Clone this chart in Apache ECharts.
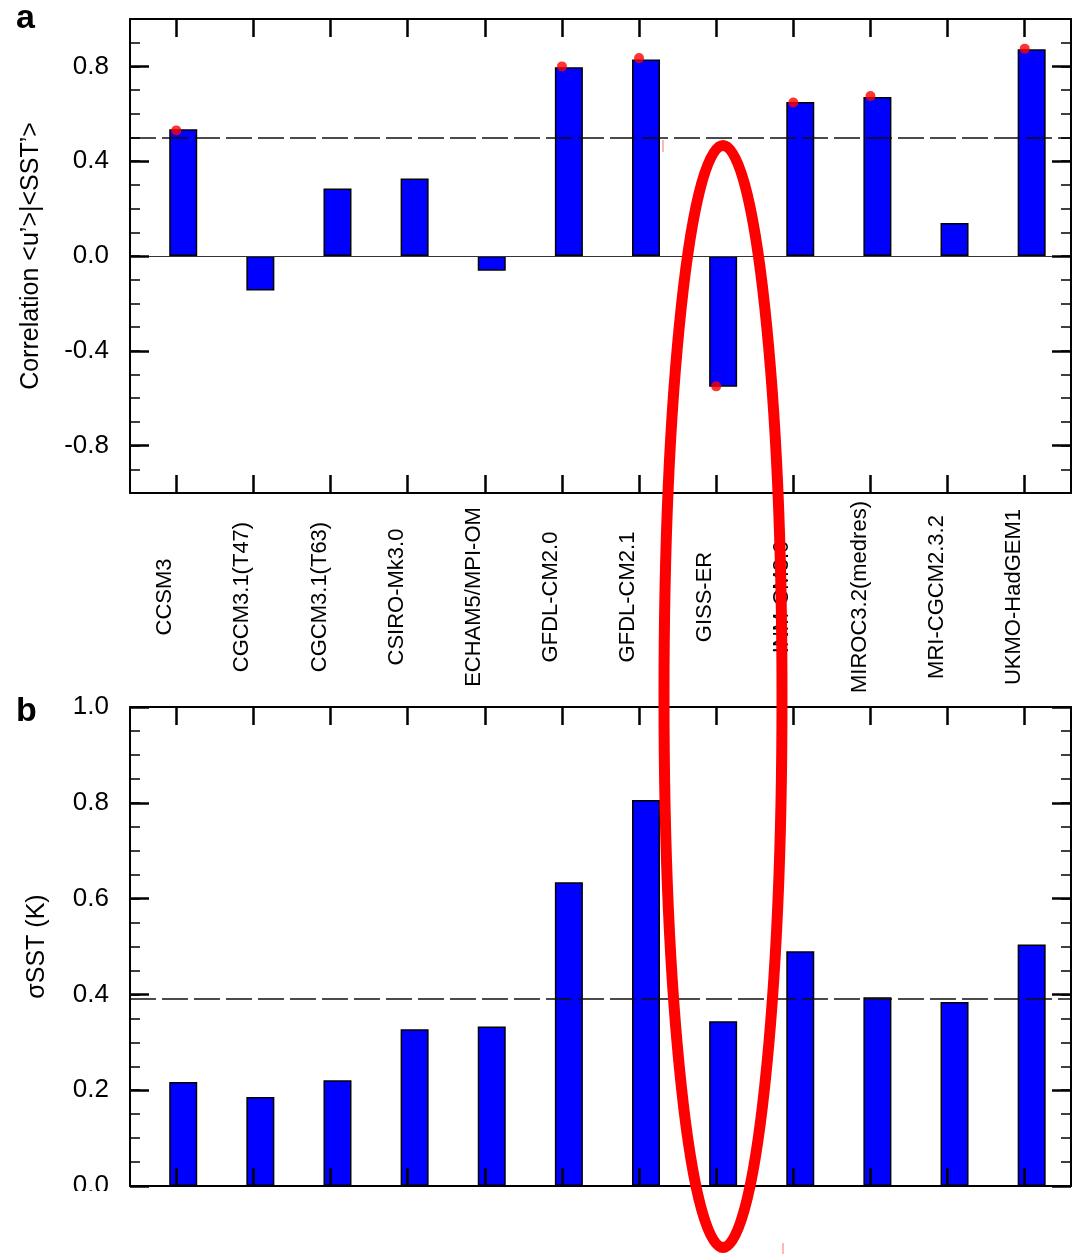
<!DOCTYPE html>
<html>
<head>
<meta charset="utf-8">
<script src="https://cdn.jsdelivr.net/npm/echarts@6/dist/echarts.min.js"></script>
<style>
html,body{margin:0;padding:0;background:#fff;}
#chart{width:1077px;height:1254px;}
</style>
</head>
<body>
<div id="chart"></div>
<script>
// ---------------- data ----------------
const categories = ['CCSM3','CGCM3.1(T47)','CGCM3.1(T63)','CSIRO-Mk3.0','ECHAM5/MPI-OM','GFDL-CM2.0','GFDL-CM2.1','GISS-ER','INM-CM3.0','MIROC3.2(medres)','MRI-CGCM2.3.2','UKMO-HadGEM1'];
const corrValues = [0.535, -0.146, 0.285, 0.327, -0.062, 0.796, 0.829, -0.552, 0.650, 0.671, 0.139, 0.872];
const corrDots = [0.53, null, null, null, null, 0.80, 0.835, -0.55, 0.648, 0.675, null, 0.875];
const sstStd = [0.217, 0.186, 0.221, 0.327, 0.333, 0.634, 0.806, 0.344, 0.490, 0.394, 0.384, 0.504];
const corrRef = 0.5;
const sstRef = 0.39;
const corrTickLabels = [-0.8, -0.4, 0.0, 0.4, 0.8];
const sstTickLabels = [0.0, 0.2, 0.4, 0.6, 0.8, 1.0];
const corrTitle = 'Correlation <u\u2019>|<SST\u2019>';
const sstTitle = '\u03c3SST (K)';

// ---------------- layout ----------------
const FONT = 'Liberation Sans, Arial, Helvetica, sans-serif';
const idx = categories.map((c, i) => i);
const XMIN = -0.6, XMAX = 11.6;          // tick axis range
const BAR_SHIFT = 0.09;                   // bars sit slightly right of ticks
const grids = [
  {left: 130, right: 6, top: 19, height: 474},
  {left: 130, right: 6, top: 707, height: 479}
];
const axisLine = {show: true, onZero: false, lineStyle: {color: '#000', width: 2}};

function xAxes(gi, withLabels) {
  return [
    { // bottom ticks + labels
      type: 'value', gridIndex: gi, position: 'bottom', min: XMIN, max: XMAX, z: 10,
      axisLine: axisLine, splitLine: {show: false},
      axisTick: {show: true, inside: true, length: 18, customValues: idx, lineStyle: {color: '#000', width: 2.5}},
      axisLabel: withLabels ? {
        show: true, customValues: idx, rotate: 90, align: 'center', verticalAlign: 'bottom',
        margin: 104, fontSize: 22, fontFamily: FONT, color: '#000',
        formatter: v => categories[Math.round(v)]
      } : {show: false}
    },
    { // top ticks
      type: 'value', gridIndex: gi, position: 'top', min: XMIN, max: XMAX, z: 10,
      axisLine: axisLine, splitLine: {show: false},
      axisTick: {show: true, inside: true, length: 18, customValues: idx, lineStyle: {color: '#000', width: 2.5}},
      axisLabel: {show: false}
    },
    { // bar axis (hidden)
      type: 'value', gridIndex: gi, position: 'bottom', show: false,
      min: XMIN - BAR_SHIFT, max: XMAX - BAR_SHIFT
    }
  ];
}

function yAxes(gi, min, max, majors, minorInterval, title, nameGap) {
  const major = (pos, withLabel) => ({
    type: 'value', gridIndex: gi, position: pos, min: min, max: max, z: 10,
    axisLine: axisLine, splitLine: {show: false},
    axisTick: {show: true, inside: true, length: 19, customValues: majors, lineStyle: {color: '#000', width: 2.5}},
    axisLabel: withLabel ? {show: true, customValues: majors, margin: 21, fontSize: 26, fontFamily: FONT, color: '#000',
      formatter: v => v.toFixed(1)} : {show: false},
    name: withLabel ? title : '', nameLocation: 'middle', nameGap: nameGap,
    nameTextStyle: {fontSize: 25, fontFamily: FONT, color: '#000'}
  });
  const minor = (pos) => ({
    type: 'value', gridIndex: gi, position: pos, min: min, max: max, interval: minorInterval, z: 10,
    axisLine: {show: false, onZero: false}, splitLine: {show: false},
    axisTick: {show: true, inside: true, length: 10, lineStyle: {color: '#000', width: 1.5}},
    axisLabel: {show: false}
  });
  return [major('left', true), minor('left'), major('right', false), minor('right')];
}

const xAxis = [...xAxes(0, true), ...xAxes(1, false)];
const yAxis = [
  ...yAxes(0, -1, 1, corrTickLabels, 0.1, corrTitle, 86),
  ...yAxes(1, 0, 1, sstTickLabels, 0.05, sstTitle, 80)
];

const dashStyle = {color: '#111', width: 1.5, type: [26, 6]};
const barStyle = {color: '#0000ff', borderColor: '#000', borderWidth: 1.5};

const series = [
  {
    type: 'bar', xAxisIndex: 2, yAxisIndex: 0, barWidth: 28,
    data: corrValues.map((v, i) => [i, v]), itemStyle: barStyle, z: 3,
    markLine: {
      silent: true, symbol: ['none', 'none'], label: {show: false}, animation: false, z: 4,
      data: [
        {yAxis: 0, lineStyle: {color: '#333', width: 1.2, type: 'solid'}},
        {yAxis: corrRef, lineStyle: dashStyle}
      ]
    }
  },
  {
    type: 'scatter', xAxisIndex: 0, yAxisIndex: 0, symbolSize: 10, z: 6,
    itemStyle: {color: '#ff0000'},
    data: corrDots.map((v, i) => v === null ? null : [i, v]).filter(d => d !== null)
  },
  {
    type: 'bar', xAxisIndex: 5, yAxisIndex: 4, barWidth: 28,
    data: sstStd.map((v, i) => [i, v]), itemStyle: barStyle, z: 3,
    markLine: {
      silent: true, symbol: ['none', 'none'], label: {show: false}, animation: false, z: 4,
      data: [{yAxis: sstRef, lineStyle: dashStyle}]
    }
  }
];

const graphic = [
  {type: 'text', left: 16, top: 2, z: 50, style: {text: 'a', font: 'bold 34px ' + FONT, fill: '#000'}},
  {type: 'text', left: 16, top: 695, z: 50, style: {text: 'b', font: 'bold 34px ' + FONT, fill: '#000'}},
  {type: 'rect', z: 90, shape: {x: 0, y: 1191, width: 125, height: 63}, style: {fill: '#fff'}},
  {type: 'line', z: 91, shape: {x1: 663, y1: 140, x2: 663, y2: 152}, style: {stroke: '#ff7070', lineWidth: 1}},
  {type: 'line', z: 91, shape: {x1: 783, y1: 1243, x2: 783, y2: 1254}, style: {stroke: '#ff7070', lineWidth: 1}},
  {type: 'ellipse', z: 100, shape: {cx: 723, cy: 696.5, rx: 59, ry: 551}, style: {fill: 'none', stroke: '#ff0000', lineWidth: 11}}
];

const chart = echarts.init(document.getElementById('chart'), null, {renderer: 'canvas'});
chart.setOption({
  animation: false,
  backgroundColor: '#fff',
  grid: grids,
  xAxis: xAxis,
  yAxis: yAxis,
  series: series,
  graphic: graphic
});
</script>
</body>
</html>
